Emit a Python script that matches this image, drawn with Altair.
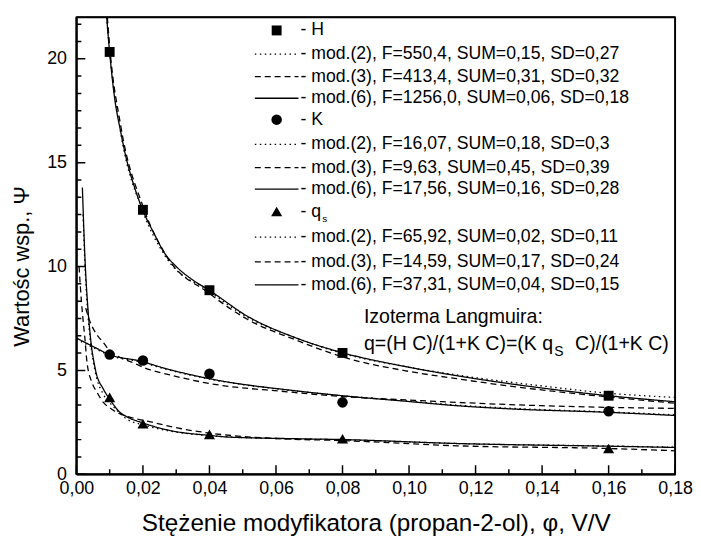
import altair as alt
import pandas as pd

# ---------------- data ----------------
x_meas = [0.01, 0.02, 0.04, 0.08, 0.16]
H_meas = [20.33, 12.73, 8.86, 5.84, 3.78]
K_meas = [5.76, 5.48, 4.84, 3.46, 3.03]
qs_meas = [3.70, 2.43, 1.92, 1.71, 1.24]

# H curves
H2_x = [0.0091, 0.01, 0.0133, 0.02, 0.0267, 0.04, 0.0515, 0.0654, 0.08, 0.10, 0.12, 0.14, 0.16, 0.18]
H2_y = [22.0, 20.3, 16.45, 12.65, 10.5, 8.8, 7.55, 6.6, 5.82, 5.15, 4.65, 4.25, 3.9, 3.7]
H3_x = [0.0093, 0.01, 0.0133, 0.02, 0.0267, 0.04, 0.0515, 0.0654, 0.08, 0.10, 0.1143, 0.13, 0.16, 0.18]
H3_y = [22.0, 20.6, 16.8, 12.9, 10.6, 8.7, 7.45, 6.5, 5.65, 4.95, 4.6, 4.25, 3.72, 3.42]
H6_x = [0.0091, 0.01, 0.0115, 0.0133, 0.015, 0.0175, 0.02, 0.0233, 0.0267, 0.03, 0.035, 0.04,
        0.0515, 0.0654, 0.08, 0.10, 0.12, 0.14, 0.16, 0.18]
H6_y = [22.0, 20.3, 18.1, 16.5, 15.2, 13.8, 12.7, 11.6, 10.6, 10.0, 9.35, 8.85,
        7.6, 6.6, 5.85, 5.15, 4.6, 4.15, 3.78, 3.49]

# K curves
K2_x = [0.0, 0.005, 0.01, 0.0194, 0.0259, 0.04, 0.0663, 0.08, 0.10, 0.1143, 0.13, 0.16, 0.18]
K2_y = [6.5, 6.1, 5.72, 5.4, 5.1, 4.58, 4.0, 3.78, 3.52, 3.33, 3.18, 3.0, 2.86]
K3_x = [0.0028, 0.0039, 0.0062, 0.0078, 0.01, 0.0135, 0.017, 0.0217, 0.0254, 0.04, 0.0634,
        0.08, 0.10, 0.1143, 0.14, 0.16, 0.18]
K3_y = [8.0, 7.43, 6.71, 6.4, 5.95, 5.6, 5.37, 5.05, 4.89, 4.37, 3.97,
        3.74, 3.57, 3.46, 3.3, 3.22, 3.17]
K6_x = [0.0, 0.005, 0.01, 0.0194, 0.0259, 0.04, 0.0663, 0.08, 0.10, 0.1143, 0.13, 0.16, 0.18]
K6_y = [6.56, 6.15, 5.76, 5.44, 5.13, 4.6, 4.01, 3.78, 3.5, 3.3, 3.15, 2.98, 2.83]

# q_s curves
Q2_x = [0.002, 0.0027, 0.0035, 0.0042, 0.0057, 0.0081, 0.01, 0.012, 0.015, 0.02, 0.028, 0.04,
        0.06, 0.08, 0.1143, 0.16, 0.18]
Q2_y = [12.5, 9.6, 7.6, 6.4, 4.9, 3.85, 3.45, 3.1, 2.67, 2.38, 2.08, 1.86,
        1.72, 1.66, 1.48, 1.36, 1.3]
Q3_x = [0.0008, 0.0012, 0.0019, 0.0025, 0.0032, 0.0047, 0.0062, 0.0081, 0.01, 0.0125, 0.015,
        0.0217, 0.0316, 0.0416, 0.06, 0.08, 0.1143, 0.16, 0.18]
Q3_y = [10.0, 9.0, 7.6, 6.63, 5.37, 4.41, 3.94, 3.46, 3.2, 2.95, 2.8,
        2.54, 2.19, 1.95, 1.72, 1.62, 1.37, 1.24, 1.13]
Q6_x = [0.0018, 0.0026, 0.0035, 0.0042, 0.0057, 0.0081, 0.01, 0.0131, 0.015, 0.02, 0.028, 0.04,
        0.0458, 0.066, 0.08, 0.1143, 0.16, 0.18]
Q6_y = [13.8, 10.3, 7.9, 6.63, 5.05, 4.1, 3.62, 2.98, 2.78, 2.47, 2.11, 1.87,
        1.79, 1.71, 1.67, 1.48, 1.35, 1.29]

legend_labels = [
    "- H",
    "- mod.(2), F=550,4, SUM=0,15, SD=0,27",
    "- mod.(3), F=413,4, SUM=0,31, SD=0,32",
    "- mod.(6), F=1256,0, SUM=0,06, SD=0,18",
    "- K",
    "- mod.(2), F=16,07, SUM=0,18, SD=0,3",
    "- mod.(3), F=9,63, SUM=0,45, SD=0,39",
    "- mod.(6), F=17,56, SUM=0,16, SD=0,28",
    "- q",
    "- mod.(2), F=65,92, SUM=0,02, SD=0,11",
    "- mod.(3), F=14,59, SUM=0,17, SD=0,24",
    "- mod.(6), F=37,31, SUM=0,04, SD=0,15",
]
legend_kind = ["H", "mod2", "mod3", "mod6", "K", "mod2", "mod3", "mod6", "qs", "mod2", "mod3", "mod6"]

x_ticks_major = [0.0, 0.02, 0.04, 0.06, 0.08, 0.10, 0.12, 0.14, 0.16, 0.18]
x_ticks_minor = [0.01, 0.03, 0.05, 0.07, 0.09, 0.11, 0.13, 0.15, 0.17]
y_ticks_major = [0, 5, 10, 15, 20]
y_ticks_minor = [5 * k / 6 for k in range(1, 27) if k % 6 != 0]

# ---------------- layout ----------------
W, HH = 604, 461
XMAX, YMAX = 0.18, 22.0
FONT = "Liberation Sans"

def dx(px_page):
    return (px_page - 77) / W * XMAX

def dy(py_page):
    return (HH - (py_page - 15)) / HH * YMAX

def px2dx(n):
    return n / W * XMAX

def px2dy(n):
    return n / HH * YMAX

xs = alt.Scale(domain=[0, XMAX], nice=False, zero=False)
ys = alt.Scale(domain=[0, YMAX], nice=False, zero=False)
dash_scale = alt.Scale(domain=["mod2", "mod3", "mod6"], range=[[1.5, 3.5], [6, 4], [1, 0]])
shape_scale = alt.Scale(domain=["H", "K", "qs"], range=["square", "circle", "triangle-up"])
size_scale = alt.Scale(domain=["H", "K", "qs"], range=[100, 125, 135])

rows = []
for s, m, X, Y in [("H", "mod2", H2_x, H2_y), ("H", "mod3", H3_x, H3_y), ("H", "mod6", H6_x, H6_y),
                   ("K", "mod2", K2_x, K2_y), ("K", "mod3", K3_x, K3_y), ("K", "mod6", K6_x, K6_y),
                   ("qs", "mod2", Q2_x, Q2_y), ("qs", "mod3", Q3_x, Q3_y), ("qs", "mod6", Q6_x, Q6_y)]:
    for a, b in zip(X, Y):
        rows.append({"x": a, "y": b, "curve": s + m, "model": m, "w": 1.3})

# box edges and inward ticks as two-point solid segments in the same line layer
seg_id = 0
def add_seg(x1, y1, x2, y2, w):
    global seg_id
    rows.append({"x": x1, "y": y1, "curve": f"s{seg_id}", "model": "mod6", "w": w})
    rows.append({"x": x2, "y": y2, "curve": f"s{seg_id}", "model": "mod6", "w": w})
    seg_id += 1

add_seg(0.0, 0.0, XMAX, 0.0, 1.8)
add_seg(0.0, YMAX, XMAX, YMAX, 1.8)
add_seg(0.0, 0.0, 0.0, YMAX, 1.8)
add_seg(XMAX, 0.0, XMAX, YMAX, 1.8)
for v in y_ticks_major:
    add_seg(0.0, v, px2dx(9), v, 1.5)
for v in y_ticks_minor:
    add_seg(0.0, v, px2dx(5), v, 1.5)
for v in x_ticks_major:
    add_seg(v, 0.0, v, px2dy(9), 1.5)
for v in x_ticks_minor:
    add_seg(v, 0.0, v, px2dy(5), 1.5)
curves = pd.DataFrame(rows)

pts = pd.DataFrame(
    [{"x": a, "y": b, "series": "H"} for a, b in zip(x_meas, H_meas)]
    + [{"x": a, "y": b, "series": "K"} for a, b in zip(x_meas, K_meas)]
    + [{"x": a, "y": b, "series": "qs"} for a, b in zip(x_meas, qs_meas)]
)

xaxis = alt.Axis(values=x_ticks_major, ticks=False, domain=True, domainColor="black", domainWidth=1.6,
                 grid=False, labelFlush=False,
                 labelExpr="replace(format(datum.value, '.2f'), '.', ',')",
                 labelFontSize=18, labelPadding=5, labelFont=FONT, labelColor="black",
                 title="Stężenie modyfikatora (propan-2-ol), φ, V/V", titleFontSize=24.5,
                 titleFontWeight="normal", titleFont=FONT, titleColor="black", titlePadding=15)
yaxis = alt.Axis(values=y_ticks_major, ticks=False, domain=True, domainColor="black", domainWidth=1.6,
                 grid=False, labelFlush=False,
                 labelFontSize=18, labelPadding=10, labelFont=FONT, labelColor="black",
                 title="Wartośc wsp., Ψ", titleFontSize=22, titleFontWeight="normal",
                 titleFont=FONT, titleColor="black", titlePadding=13, titleY=251)

lines = alt.Chart(curves).mark_line(color="black", interpolate="monotone").encode(
    x=alt.X("x:Q", scale=xs, axis=xaxis),
    y=alt.Y("y:Q", scale=ys, axis=yaxis),
    detail="curve:N",
    strokeDash=alt.StrokeDash("model:N", scale=dash_scale, legend=None),
    strokeWidth=alt.StrokeWidth("w:Q", scale=None, legend=None),
)

points = alt.Chart(pts).mark_point(filled=True, color="black", opacity=1).encode(
    x=alt.X("x:Q", scale=xs),
    y=alt.Y("y:Q", scale=ys),
    shape=alt.Shape("series:N", scale=shape_scale, legend=None),
    size=alt.Size("series:N", scale=size_scale, legend=None),
)

# ---------------- legend (inside the plot) ----------------
row_y_page = [28.3, 52.3, 75.0, 96.7, 118.3, 143.3, 166.7, 188.3, 211.0, 236.7, 261.7, 285.0]
leg_text = pd.DataFrame({"x": [dx(303)] * 12, "y": [dy(v) for v in row_y_page], "label": legend_labels})
sym_rows = [i for i, kk in enumerate(legend_kind) if kk in ("H", "K", "qs")]
line_rows = [i for i, kk in enumerate(legend_kind) if kk.startswith("mod")]
leg_sym = pd.DataFrame({"x": [dx(279)] * len(sym_rows), "y": [dy(row_y_page[i]) for i in sym_rows],
                        "series": [legend_kind[i] for i in sym_rows]})
leg_line = pd.DataFrame({"x": [dx(257)] * len(line_rows), "x2": [dx(301)] * len(line_rows),
                         "y": [dy(row_y_page[i]) for i in line_rows],
                         "model": [legend_kind[i] for i in line_rows]})

legend_text = alt.Chart(leg_text).mark_text(align="left", baseline="middle", fontSize=17.8, font=FONT,
                                            color="black").encode(
    x=alt.X("x:Q", scale=xs), y=alt.Y("y:Q", scale=ys), text="label:N")
legend_sub = alt.Chart(pd.DataFrame({"x": [dx(325)], "y": [dy(219)], "t": ["s"]})).mark_text(
    align="left", baseline="middle", fontSize=10, font=FONT, color="black").encode(
    x=alt.X("x:Q", scale=xs), y=alt.Y("y:Q", scale=ys), text="t:N")
legend_sym = alt.Chart(leg_sym).mark_point(filled=True, color="black", opacity=1).encode(
    x=alt.X("x:Q", scale=xs), y=alt.Y("y:Q", scale=ys),
    shape=alt.Shape("series:N", scale=shape_scale, legend=None),
    size=alt.Size("series:N", scale=size_scale, legend=None))
legend_lines = alt.Chart(leg_line).mark_rule(color="black", strokeWidth=1.3).encode(
    x=alt.X("x:Q", scale=xs), x2="x2:Q", y=alt.Y("y:Q", scale=ys),
    strokeDash=alt.StrokeDash("model:N", scale=dash_scale, legend=None))

big_df = pd.DataFrame({
    "x": [dx(367), dx(367), dx(580)],
    "y": [dy(317), dy(345), dy(345)],
    "t": ["Izoterma Langmuira:", "q=(H C)/(1+K C)=(K q", "C)/(1+K C)"],
})
sub_df = pd.DataFrame({"x": [dx(559)], "y": [dy(353)], "t": ["S"]})
note = alt.Chart(big_df).mark_text(baseline="middle", align="left", font=FONT, color="black",
                                   fontSize=19.7).encode(
    x=alt.X("x:Q", scale=xs), y=alt.Y("y:Q", scale=ys), text="t:N")
note_sub = alt.Chart(sub_df).mark_text(baseline="middle", align="left", font=FONT, color="black",
                                       fontSize=14).encode(
    x=alt.X("x:Q", scale=xs), y=alt.Y("y:Q", scale=ys), text="t:N")

chart = alt.layer(
    lines, points,
    legend_lines, legend_sym, legend_text, legend_sub, note, note_sub,
).properties(
    width=W, height=HH,
    autosize=alt.AutoSizeParams(type="none"),
    padding={"left": 69, "top": 7, "right": 18, "bottom": 64},
    background="white",
).configure_view(stroke="black", strokeWidth=1.6)

chart.save("out.html", embed_options={"renderer": "svg", "actions": False})
